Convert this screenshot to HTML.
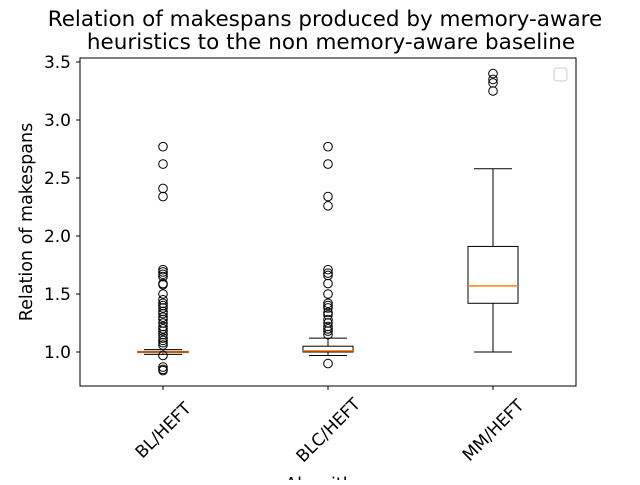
<!DOCTYPE html>
<html><head><meta charset="utf-8"><style>
body{margin:0;background:#fff}
svg{font-family:"DejaVu Sans","Liberation Sans",sans-serif}
</style></head><body>
<svg id="chart" width="640" height="480">
<text x="325" y="26" font-size="21.5" text-anchor="middle">Relation of makespans produced by memory-aware</text>
<text x="331" y="49" font-size="21.5" text-anchor="middle">heuristics to the non memory-aware baseline</text>
<rect x="80" y="58" width="496" height="328" fill="none" stroke="#000" stroke-width="1"/>
<rect x="554" y="68" width="13" height="13" rx="3" fill="#fff" stroke="#ccc"/>
<text transform="translate(32,222) rotate(-90)" font-size="17.5" text-anchor="middle">Relation of makespans</text>
<text x="328" y="490" font-size="17.5" text-anchor="middle">Algorithm</text>
<g id="yaxis"></g><g id="xaxis"></g><g id="marks"></g>
</svg>
<script>
const categories=["BL/HEFT","BLC/HEFT","MM/HEFT"];
const q1=[0.995,1.0,1.42];
const medians=[1.0,1.01,1.57];
const q3=[1.005,1.05,1.91];
const whiskLo=[0.98,0.97,1.0];
const whiskHi=[1.02,1.12,2.58];
const outliersBL=[2.77,2.62,2.41,2.34,1.71,1.69,1.67,1.65,1.59,1.58,1.5,1.45,1.42,1.40,1.38,1.35,1.33,1.30,1.28,1.25,1.22,1.20,1.18,1.15,1.12,1.10,1.08,1.06,0.97,0.87,0.85,0.84];
const outliersBLC=[2.77,2.62,2.34,2.26,1.71,1.68,1.66,1.59,1.5,1.42,1.40,1.38,1.34,1.32,1.28,1.25,1.22,1.20,1.18,1.15,0.9];
const outliersMM=[3.4,3.35,3.32,3.25];
const yTicks=[1.0,1.5,2.0,2.5,3.0,3.5];
const outliers=[outliersBL,outliersBLC,outliersMM];
const NS="http://www.w3.org/2000/svg";
function y(v){return 352-(v-1)*116;}
function x(i){return 163+i*165;}
function mk(tag,attrs,parent,text){const e=document.createElementNS(NS,tag);for(const k in attrs)e.setAttribute(k,attrs[k]);if(text!=null)e.textContent=text;document.getElementById(parent).appendChild(e);return e;}
yTicks.forEach(t=>{
 const l=mk('line',{x1:76,x2:80,y1:y(t),y2:y(t),stroke:'#000'},'yaxis');
 
 
 const tx=mk('text',{x:71,y:y(t)+6,'font-size':17,'text-anchor':'end'},'yaxis',t.toFixed(1));
 
 
});
categories.forEach((c,i)=>{
 const cx=x(i);
 const l=mk('line',{x1:cx,x2:cx,y1:386,y2:390,stroke:'#000'},'xaxis');
 
 
 const tx=mk('text',{x:cx,y:436,'font-size':17,'text-anchor':'middle',transform:`rotate(-45 ${cx} 430)`},'xaxis',c);
 
 
 const g=mk('g',{},'marks');
 g.setAttribute('id','box'+i);
 
 
 const id='box'+i;
 mk('line',{x1:cx,x2:cx,y1:y(q3[i]),y2:y(whiskHi[i]),stroke:'#000'},id);
 mk('line',{x1:cx,x2:cx,y1:y(q1[i]),y2:y(whiskLo[i]),stroke:'#000'},id);
 mk('line',{x1:cx-19,x2:cx+19,y1:y(whiskHi[i]),y2:y(whiskHi[i]),stroke:'#000'},id);
 mk('line',{x1:cx-19,x2:cx+19,y1:y(whiskLo[i]),y2:y(whiskLo[i]),stroke:'#000'},id);
 mk('rect',{x:cx-25,y:y(q3[i]),width:50,height:Math.max(1,y(q1[i])-y(q3[i])),fill:'none',stroke:'#000'},id);
 mk('line',{x1:cx-25,x2:cx+25,y1:y(medians[i]),y2:y(medians[i]),stroke:'#ff7f0e','stroke-width':1.5},id);
 outliers[i].forEach(v=>{
  const o=mk('circle',{cx:cx,cy:y(v),r:4.3,fill:'none',stroke:'#000'},id);
  
  
 });
});
</script>
</body></html>
